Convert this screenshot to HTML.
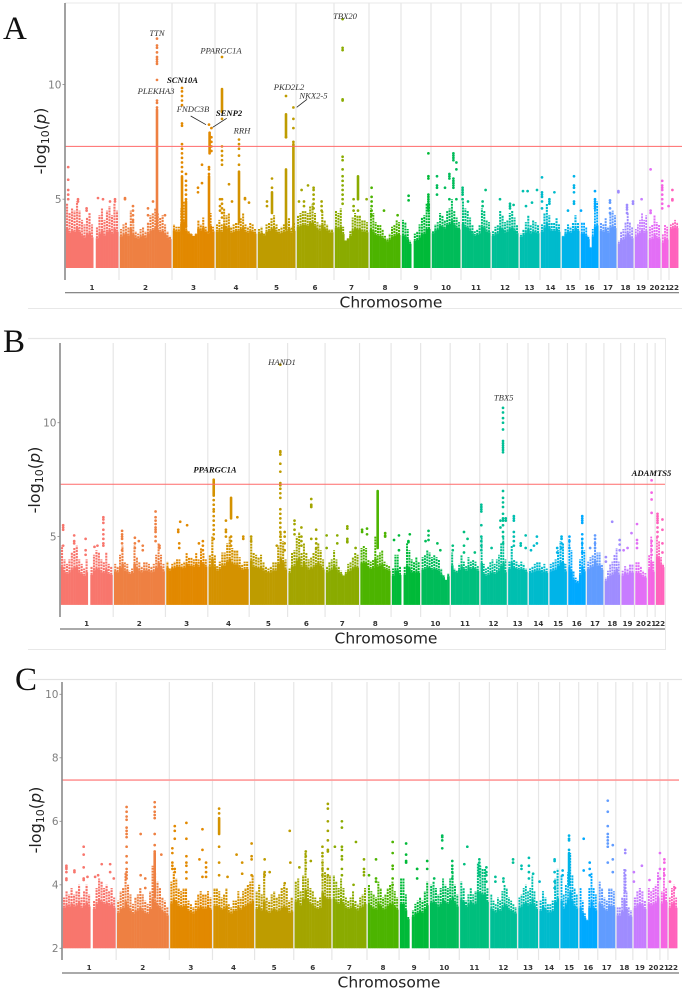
<!DOCTYPE html>
<html lang="en">
<head>
<meta charset="utf-8">
<title>Manhattan plots A, B and C</title>
<style>
html,body{margin:0;padding:0;background:#fff;}
#figure{display:block;width:682px;height:992px;filter:blur(0.35px);}
.tick{font-family:"DejaVu Sans","Liberation Sans",sans-serif;font-size:10.5px;fill:#7f7f7f;text-anchor:end;}
.chr{font-family:"DejaVu Sans","Liberation Sans",sans-serif;font-size:7.2px;font-weight:bold;fill:#333;text-anchor:middle;}
.xtitle{font-family:"DejaVu Sans","Liberation Sans",sans-serif;font-size:15.5px;fill:#222;text-anchor:middle;}
.ytitle{font-family:"DejaVu Sans","Liberation Sans",sans-serif;font-size:16px;fill:#222;text-anchor:middle;}
.gene{font-family:"Liberation Serif",serif;font-size:8.6px;font-style:italic;fill:#333;text-anchor:middle;}
.gene.b{font-weight:bold;fill:#111;}
.letter{font-family:"Liberation Serif",serif;font-size:33px;fill:#111;}
</style>
</head>
<body>
<svg id="figure" xmlns="http://www.w3.org/2000/svg" width="682" height="992" viewBox="0 0 682 992">
  <rect x="0" y="0" width="682" height="992" fill="#fff"/>

  <g id="panelA">
    <line x1="65" y1="3" x2="682" y2="3" stroke="#eee" stroke-width="1.2"/>
    <line x1="28" y1="308.5" x2="682" y2="308.5" stroke="#e8e8e8" stroke-width="1"/>
    <g id="panelAGrid"></g>
    <g id="panelAMarks"></g>
    <g id="panelAAxes"></g>
    <text class="letter" x="3" y="39">A</text>
    <text class="xtitle" x="391" y="307.5">Chromosome</text>
    <text class="ytitle" transform="translate(46,141) rotate(-90)">-log<tspan font-size="11" dy="3">10</tspan><tspan dy="-3">(</tspan><tspan font-style="italic">p</tspan>)</text>
    <g>
      <text class="gene" x="157" y="36">TTN</text>
      <text class="gene" x="221" y="53.5">PPARGC1A</text>
      <text class="gene b" x="182.5" y="83">SCN10A</text>
      <text class="gene" x="156" y="94">PLEKHA3</text>
      <text class="gene" x="289" y="90">PKD2L2</text>
      <text class="gene" x="313.5" y="98.5">NKX2-5</text>
      <text class="gene" x="193" y="112">FNDC3B</text>
      <text class="gene b" x="229" y="116">SENP2</text>
      <text class="gene" x="242" y="133.5">RRH</text>
      <text class="gene" x="345" y="19">TBX20</text>
      <line x1="190.7" y1="116" x2="206" y2="124.7" stroke="#222" stroke-width="0.8"/>
      <line x1="226.7" y1="118.3" x2="212.7" y2="127.3" stroke="#222" stroke-width="0.8"/>
      <line x1="307" y1="99.3" x2="296.7" y2="107.3" stroke="#222" stroke-width="0.8"/>
    </g>
  </g>

  <g id="panelB">
    <line x1="28" y1="338.5" x2="665" y2="338.5" stroke="#e6e6e6" stroke-width="1.2"/>
    <line x1="28" y1="649.5" x2="665" y2="649.5" stroke="#e8e8e8" stroke-width="1"/>
    <line x1="665.5" y1="338" x2="665.5" y2="650" stroke="#e8e8e8" stroke-width="1"/>
    <g id="panelBGrid"></g>
    <g id="panelBMarks"></g>
    <g id="panelBAxes"></g>
    <text class="letter" x="3" y="352">B</text>
    <text class="xtitle" x="386" y="643.5">Chromosome</text>
    <text class="ytitle" transform="translate(40,480) rotate(-90)">-log<tspan font-size="11" dy="3">10</tspan><tspan dy="-3">(</tspan><tspan font-style="italic">p</tspan>)</text>
    <g>
      <text class="gene" x="282" y="365">HAND1</text>
      <text class="gene b" x="215" y="472.5">PPARGC1A</text>
      <text class="gene" x="503.7" y="400.7">TBX5</text>
      <text class="gene b" x="651.5" y="476">ADAMTS5</text>
    </g>
  </g>

  <g id="panelC">
    <line x1="28" y1="679.5" x2="682" y2="679.5" stroke="#e2e2e2" stroke-width="1.2"/>
    <g id="panelCGrid"></g>
    <g id="panelCMarks"></g>
    <g id="panelCAxes"></g>
    <text class="letter" x="15" y="690">C</text>
    <text class="xtitle" x="389" y="987.5">Chromosome</text>
    <text class="ytitle" transform="translate(41,820) rotate(-90)">-log<tspan font-size="11" dy="3">10</tspan><tspan dy="-3">(</tspan><tspan font-style="italic">p</tspan>)</text>
  </g>
</svg>

<script>
const chromosomes = ['1','2','3','4','5','6','7','8','9','10','11','12','13','14','15','16','17','18','19','20','21','22'];
const chrSpanMb = [270,265,215,210,195,190,175,160,150,150,150,140,105,105,95,95,90,85,70,65,40,50];
const chrColors = ['#F8766D','#EE8042','#E28900','#D49200','#BE9C00','#A3A500','#8AAB00','#4CB400','#00BA38','#00BC59','#00BF7D','#00BF96','#00BFB0','#00BBCC','#00B4E8','#00A9FF','#619CFF','#9F8CFF','#C77CFF','#E36EF6','#F564E3','#FF62BC'];
const significanceLine = 7.3;
const floorValue = 2;

const yTicksA = [5,10];
const baseA = [3.3,3.5,3.8,3.7,3.7,3.8,3.6,3.4,3.3,3.8,3.6,3.6,3.6,3.7,3.7,3.5,3.7,3.3,3.5,3.2,3.2,3.9];
const skylineA = [
[4.8,4.4,4.6,4.5,4.9,4.5,4.1,3.9,4.2,4.4,3.9,null,3.8,4.3,4.6,4.1,4.5,4.7,4.3,4.8,4.5],
[3.7,3.9,4.0,3.8,4.5,3.9,3.6,3.5,3.7,3.8,3.6,4.0,4.3,4.4,4.6,4.4,4.2,4.3,3.9,3.6,3.4],
[3.9,3.8,3.8,4.6,4.9,3.9,3.6,3.5,3.4,3.5,4.1,3.9,4.2,3.8,3.6,4.4,3.8],
[3.9,4.1,3.9,4.6,4.3,4.4,3.8,3.9,4.0,4.0,4.2,4.4,3.9,3.8,4.0,3.9,3.7],
[3.7,3.8,3.5,3.9,4.0,4.2,4.3,3.9,3.7,3.8,3.9,4.0,4.2,3.8,4.0],
[4.3,4.4,4.5,4.5,4.4,4.7,4.8,4.4,4.0,3.9,4.5,4.1,3.9,3.7,3.7],
[4.5,4.4,4.6,3.8,3.2,3.3,3.6,4.2,4.4,4.3,4.3,4.1,4.1,4.0],
[4.6,4.4,4.0,3.9,3.9,3.7,3.4,3.3,3.5,3.8,3.9,4.1,4.0],
[4.1,4.0,3.7,3.2,null,3.5,3.6,3.9,4.2,4.3,4.8,4.8],
[3.6,3.9,4.0,4.4,4.3,4.1,4.5,4.6,5.0,4.5,4.2,4.0],
[4.9,4.6,4.5,4.2,3.9,3.6,3.7,3.9,4.6,4.5,4.1,4.0],
[3.6,3.8,3.9,4.5,4.3,4.0,4.1,4.4,4.5,4.2,3.9],
[3.5,3.7,4.0,4.3,3.9,4.1,4.0,3.9],
[3.9,4.4,4.8,4.3,4.0,4.0,4.2,3.9],
[3.4,3.7,3.9,3.8,4.0,4.3,4.0],
[4.0,4.0,3.8,3.4,2.9,3.7,4.8,4.9],
[4.0,3.9,4.2,3.8,4.4,4.5,4.3],
[3.2,3.6,3.7,4.0,4.4,4.0,3.8],
[3.7,3.9,4.1,4.4,4.1,4.3],
[3.8,3.9,4.3,4.0,3.9],
[3.5,3.9,3.8],
[3.9,4.0,4.1,4.0]
];
const towersA = [[2,190,3.5,8.9],[3,50,3.5,6.0],[3,70,3.8,4.9],[3,185,3.6,6.0],[3,188,7.0,7.9],[4,35,8.8,9.8],[4,120,4.0,6.2],[5,145,3.7,6.3],[5,145,7.7,8.7],[5,182,3.6,7.4],[5,75,4.4,5.3],[7,120,5.0,6.0]];
const hitsA = [
[[16,6.4,5.85,5.4,5.2,5.0],[65,5.0,4.9],[108,4.5,4.6],[165,5.05],[190,5.0],[225,4.9],[250,5.0,4.9]],
[[30,5.05,5.0],[70,4.7,4.5,4.3,4.1,4.0],[145,4.6,4.3],[170,4.9],[190,9.0,9.2,9.3,10.2,10.9,11.0,11.1,11.2,11.4,11.6,11.7,12.0],[230,4.3]],
[[50,6.2,6.4,6.6,6.8,7.0,7.2,7.4,8.2,8.3,9.1,9.3,9.5,9.7,9.85],[70,6.1,5.8,5.6,5.4,5.2,5.0],[130,5.5,5.3],[150,6.5,5.7],[185,6.1,6.3,6.4,8.25],[197,8.1,7.7,7.5,7.3,7.1]],
[[25,5.0,4.7,4.5],[35,4.2,4.4,4.6,4.8,5.0,6.5,6.7,6.9,7.1,7.3,8.5,11.2],[70,5.65],[85,4.9],[120,6.5,6.9,7.2,7.4,7.6],[150,5.05,5.0],[170,4.85]],
[[50,4.9,4.7],[75,5.9,5.5],[145,9.5,7.7],[182,7.5,8.1,8.5,9.0]],
[[15,4.9],[28,5.4],[40,4.9,4.7],[60,5.6],[88,5.5,5.4,5.2,5.0,4.8,4.6],[128,4.9,4.7,4.5]],
[[43,12.85,11.6,11.5,9.35,9.3,6.85,6.7,6.3,6.0,5.8,5.6,5.4,5.2,5.0,4.8],[98,5.0,4.7,4.5],[120,4.5],[163,5.0]],
[[13,5.5,5.1,4.9,4.7,4.5,4.3],[75,4.5],[143,4.3]],
[[38,5.15,4.95],[137,7.0,6.0,5.9,5.2,5.1,5.0,4.9,4.8,4.7,4.6,4.5]],
[[30,6.0,5.6,5.5,5.2],[70,5.5],[92,6.1,6.0,5.9,5.0],[112,7.0,6.9,6.8,6.7,5.9,5.8,5.7,5.6,5.5],[127,6.6,6.3,5.0]],
[[8,5.5,5.4,5.3,5.2,5.0],[35,4.9],[108,4.9,4.7],[123,5.4]],
[[45,5.0],[95,4.8,4.7,4.6],[113,4.75]],
[[20,5.35],[35,4.7],[43,5.35],[65,4.85],[90,5.4]],
[[10,5.95,5.3,5.2,5.1,4.9,4.6],[47,5.0,4.9,4.8],[72,5.3]],
[[35,4.5],[65,6.0,5.6,5.5,5.3,4.9,4.8]],
[[5,4.5],[75,5.35,5.0,4.9,4.8,4.7,4.6]],
[[55,4.95,4.85,4.6,4.4]],
[[7,5.35,5.3],[50,4.75,4.65,4.55,4.4],[80,4.9,4.8]],
[[38,5.0]],
[[13,6.3,4.5,4.4]],
[[6,5.8,5.6,5.5,5.4,5.2,5.0,4.8,4.6],[38,4.7]],
[[17,5.4,5.0,4.95]]
];

const yTicksB = [5,10];
const baseB = [3.4,3.6,3.8,3.7,3.6,3.6,3.6,3.7,3.4,3.5,3.7,3.4,3.7,3.6,3.6,3.2,3.7,3.3,3.5,3.4,3.5,3.9];
const skylineB = [
[4.6,4.0,3.8,4.0,4.3,4.5,4.6,4.0,3.8,3.6,4.0,null,3.7,4.2,4.4,4.3,4.0,3.9,4.3,3.8,3.7],
[3.8,3.7,4.2,4.6,3.9,3.8,3.5,3.6,4.6,4.1,3.9,3.7,3.9,3.9,3.8,3.7,3.8,4.2,4.7,4.2,3.8],
[3.9,3.6,3.8,3.9,4.0,4.0,3.8,3.9,4.3,4.1,4.1,4.0,4.3,4.0,4.5,4.3,4.0],
[4.2,5.0,4.2,3.7,3.9,4.3,4.3,4.7,5.0,4.5,4.4,4.4,4.1,3.8,3.9,3.9],
[5.0,4.3,4.2,4.1,4.2,3.9,3.7,3.6,3.7,3.9,3.9,4.6,5.2,4.8,4.0],
[3.6,4.3,4.4,5.0,5.2,4.3,4.7,4.3,4.0,4.1,4.3,4.5,4.7,4.4,4.0],
[3.7,3.9,4.0,4.4,4.0,3.7,3.5,3.3,3.5,3.8,3.9,4.1,4.3,4.2],
[4.5,4.6,4.5,4.0,3.9,4.0,5.0,4.2,4.3,4.4,3.9,3.8,3.7],
[3.6,4.2,4.2,3.7,null,3.7,4.7,4.4,4.0,3.9,4.1,3.9],
[4.1,4.2,4.4,4.3,4.1,4.2,4.1,4.0,3.6,3.3,3.1,3.4],
[4.3,3.6,3.5,3.8,4.2,3.9,3.7,4.1,3.9,4.0,3.9,3.7],
[5.0,3.8,3.6,3.7,3.9,4.0,3.8,4.0,4.2,4.7,5.0,4.0],
[3.9,4.6,4.0,3.9,3.8,3.9,3.8,3.6],
[3.6,3.7,3.8,3.9,3.9,3.7,3.8,3.6],
[3.8,3.9,4.0,4.4,4.8,4.7,3.8],
[4.9,4.4,3.5,3.2,3.1,4.0,4.9,4.4],
[3.9,4.1,4.2,4.8,4.3,4.3,3.8],
[3.2,3.5,3.8,3.9,4.2,4.5,3.9],
[3.5,3.7,3.6,3.8,3.8],
[3.9,3.9,3.7,3.5,3.4],
[4.2,5.0,3.9],
[5.0,4.8,4.1,3.8]
];
const towersB = [[4,30,6.8,7.5],[4,118,5.8,6.7],[8,92,4.5,7.0]];
const hitsB = [
[[16,5.5,5.4,5.3,4.6],[72,5.05,4.8,4.7],[130,4.9,4.4,4.2],[175,4.55],[190,4.6],[220,5.85,5.75,5.6,5.3,5.1,4.9,4.7,4.6]],
[[45,5.25,5.1,5.0,4.9,4.7,4.4],[110,4.95,4.7,4.5],[130,4.8],[150,4.6,4.4],[215,6.1,5.85,5.7,5.55,5.4,5.3,5.2,5.0,4.8],[235,4.6,4.5]],
[[65,5.3,5.2],[70,4.7,4.5],[75,5.65],[110,5.5],[170,4.7],[190,4.8,4.6,4.4]],
[[30,6.6,6.4,6.2,6.1,5.9,5.7,5.5,5.3,5.1,4.9],[92,5.7,5.3,5.2,5.0],[118,4.6,4.8,5.0],[150,5.85],[180,5.0,4.9]],
[[10,5.0,4.8],[140,4.6],[158,12.55,8.75,8.7,8.6,8.2,7.85,7.35,7.25,7.1,6.9,6.7,6.2,6.0,5.8,5.6,5.4,5.2,5.0],[180,5.2,5.0,4.7,4.4]],
[[35,5.7,5.55,5.3,5.1],[70,5.4,5.0,4.8,4.6],[120,6.65,6.4,6.35,6.3,4.9],[145,5.3,4.9,4.7,4.5]],
[[8,5.05,4.5],[62,5.05,4.7],[113,5.45,5.35,4.9,4.8,4.75],[155,4.5]],
[[13,5.3,5.2],[38,5.35,5.1],[130,5.15,5.05,5.0]],
[[15,4.85],[40,5.05,4.4],[88,4.8,4.75],[95,5.1]],
[[25,4.8],[40,5.25,5.05,4.85],[85,4.7],[100,4.4]],
[[13,4.6,4.4],[70,5.2,4.6,4.3],[88,4.9],[125,4.3]],
[[8,6.4,6.3,6.2,6.1,5.5,5.0,4.8,4.6,4.4],[60,4.5],[105,5.7,5.4],[118,10.65,10.45,10.2,10.0,9.7,9.2,9.1,9.0,8.9,8.8,8.7,7.0,6.7,6.5,6.3,6.0,5.8,5.7,5.5,5.2,5.0,4.7],[132,5.8,5.7]],
[[33,5.9,5.8,5.7,5.2,5.0,4.8,4.6],[68,4.7,4.6],[93,5.05,4.5]],
[[15,4.4],[30,4.6],[45,5.0,4.7]],
[[43,4.5,4.3],[65,5.0,4.9,4.7,4.5]],
[[10,5.0,4.8,4.5],[75,5.9,5.8,5.7,5.6,5.1,4.9,4.7,4.5,4.3]],
[[20,4.5],[45,5.05,4.9,4.7,4.5]],
[[10,4.1,3.9],[42,5.65],[80,4.85,4.65,4.4]],
[[15,4.4],[35,4.5],[55,5.15]],
[[13,5.55,4.85,4.7,4.5]],
[[22,7.47,6.93,6.63,6.04,4.8,4.6,4.4,4.2]],
[[12,6.0,5.9,5.8,5.7,5.6,5.4,5.2,5.0],[37,5.75,5.3,4.7,4.3]]
];

const yTicksC = [2,4,6,8,10];
const baseC = [3.4,3.2,3.3,3.3,3.2,3.4,3.4,3.3,3.2,3.4,3.5,3.3,3.4,3.3,3.3,3.2,3.3,3.2,3.4,3.4,3.5,3.4];
const skylineC = [
[3.6,3.8,3.7,3.9,3.7,3.8,4.0,3.6,3.8,4.0,3.7,null,3.5,3.9,4.2,4.1,3.9,4.0,3.8,3.9,3.6],
[3.5,3.8,3.9,4.4,4.0,3.7,3.4,3.6,3.7,3.9,3.7,3.5,3.4,3.8,4.6,4.4,4.1,3.9,3.6,3.5,3.3],
[4.1,4.4,4.2,3.9,3.8,3.9,3.9,3.5,3.4,3.3,3.5,3.7,3.8,3.7,3.7,3.8,3.6],
[3.9,3.9,3.8,3.6,3.7,3.9,3.4,3.3,3.5,3.5,3.8,3.6,3.8,3.9,4.0,4.1,4.3],
[3.8,4.0,3.7,4.4,3.6,3.5,3.7,3.8,3.6,3.7,3.9,4.0,3.9,3.5,3.6],
[4.1,4.2,3.8,4.3,5.0,4.2,3.9,3.8,3.6,3.5,3.6,4.8,4.4,4.3,4.3],
[4.3,4.1,3.9,4.2,3.9,3.6,3.5,3.6,3.8,3.5,3.4,3.6,3.7,3.9],
[4.0,3.8,3.7,3.6,4.1,3.9,3.6,3.7,3.9,4.0,4.1,3.8,3.6],
[4.2,4.2,3.7,3.0,null,3.2,3.4,3.5,3.6,3.5,3.8,4.1],
[4.0,4.1,3.9,3.7,3.9,4.2,4.0,3.9,4.2,4.4,4.0,3.7],
[4.1,3.9,3.5,3.7,3.9,3.7,3.8,4.7,4.6,4.5,4.5,3.9],
[3.7,3.5,3.4,3.6,3.5,3.8,4.0,3.9,3.6,3.5,3.4,3.3],
[3.6,3.7,3.9,4.0,3.8,3.9,4.3,3.8,3.5],
[3.5,3.8,3.6,3.4,3.4,3.5,4.2,4.5],
[4.3,3.7,4.0,4.4,5.0,4.3,3.9,3.7],
[3.9,3.5,3.1,2.9,3.9,4.4,3.9,3.7],
[4.1,3.9,3.6,3.5,3.9,3.9,3.8],
[3.3,3.3,3.6,4.5,3.8,3.3,3.2],
[3.6,3.8,3.9,3.8,3.5],
[3.9,3.8,3.9,4.0,4.4],
[3.8,4.5,3.9],
[3.6,3.9,4.0,3.6]
];
const towersC = [[2,192,3.6,5.0],[4,33,5.6,6.1],[15,47,4.0,5.0]];
const hitsC = [
[[22,4.6,4.55,4.5,4.4,4.2,4.15],[62,4.45,4.4],[108,5.2,4.95,4.55,4.2,4.15],[127,4.25],[165,4.25],[180,4.3],[198,4.65],[240,4.65,4.4],[258,4.2]],
[[52,6.45,6.3,6.15,6.05,5.8,5.7,5.6,5.5,5.2,4.9,4.7,4.5,4.4,4.3,4.2],[122,5.6,4.3],[145,4.2,3.9],[192,6.6,6.45,6.3,6.2,6.1,5.6,5.25,5.05],[225,4.95]],
[[15,5.15,5.0,4.7,4.6,4.5],[27,5.85,5.7,5.45,4.5,4.4],[85,5.95,5.45,4.9,4.7,4.6,4.4,4.2],[150,4.8],[165,5.75,5.1,4.25],[183,4.7,4.55,4.4,4.25]],
[[33,6.4,6.25,5.2,4.7,4.3],[75,4.25],[120,4.95],[148,4.7,4.35],[195,5.3,4.9,4.8,4.3]],
[[50,4.8,4.4,4.3],[75,4.4],[150,4.05],[175,5.7],[178,4.7]],
[[28,4.55],[60,5.05,4.9,4.7,4.5],[85,4.75],[143,5.2,5.0,4.9,4.7,4.5,4.3],[170,6.55,6.4,6.0,5.7,5.4,5.1,5.05,4.5,4.3]],
[[15,5.2],[50,6.0,5.8,5.2,5.1,4.9,4.8,4.5,4.3],[108,4.0],[120,5.35],[160,4.8,4.5,4.4,4.3]],
[[10,4.3],[45,4.8,4.2,4.1],[128,5.35,5.0,4.6,4.5,4.2,4.0]],
[[35,5.3,4.95,4.75,4.7],[90,4.5,4.5,4.2],[140,4.75,4.5]],
[[25,4.2],[65,5.55,5.5,5.4,5.15],[115,4.75,4.6,4.5,4.4,4.2]],
[[25,4.65],[40,5.2],[100,4.8,4.7,4.6,4.5,4.4,4.3],[135,4.55,4.4,4.3,4.1]],
[[30,4.25,4.1],[70,4.2,4.1],[118,4.8,4.7]],
[[20,4.6,4.5],[57,4.85,4.6,4.4,4.2],[78,4.35]],
[[5,4.1],[80,4.8,4.75,4.4,4.1,3.9]],
[[15,4.45,4.3],[47,5.55,5.45,5.4,5.1,4.2]],
[[25,5.45,4.45],[55,4.7,4.5,4.3]],
[[50,6.65,6.3,5.85,5.6,5.5,5.4,5.3,5.2,4.7],[75,5.25,4.8,4.4]],
[[47,5.1,5.0,4.45,4.3,4.2,4.1,4.0,3.9,3.8]],
[[5,4.4,4.1],[45,4.6]],
[[13,4.15],[65,5.0,4.5,4.2]],
[[22,4.8,4.7,4.5,4.3]],
[[10,4.1],[35,3.9]]
];

const SVGNS = 'http://www.w3.org/2000/svg';

function makePanel(opts) {
  const total = chrSpanMb.reduce(function (a, b) { return a + b; }, 0);
  const xScale = (opts.right - opts.left) / total;
  const pxPerUnit = (opts.y2 - opts.y10) / 8;
  const starts = [];
  let running = 0;
  chrSpanMb.forEach(function (span) { starts.push(running); running += span; });
  function xAt(chrIndex, mb) { return opts.left + (starts[chrIndex] + mb) * xScale; }
  function yAt(value) { return opts.y2 - (value - floorValue) * pxPerUnit; }

  const grid = document.getElementById(opts.id + 'Grid');
  const marks = document.getElementById(opts.id + 'Marks');
  const axes = document.getElementById(opts.id + 'Axes');

  function shape(parent, tag, attrs) {
    const el = document.createElementNS(SVGNS, tag);
    Object.keys(attrs).forEach(function (k) { el.setAttribute(k, attrs[k]); });
    parent.appendChild(el);
    return el;
  }

  chromosomes.forEach(function (label, i) {
    if (i > 0) {
      const gridLine = shape(grid, 'line', {x1: xAt(i, 0), x2: xAt(i, 0), y1: opts.top, y2: opts.axisBottom, stroke: '#e6e6e6', 'stroke-width': 1.2});
      
      
    }
    const chrGroup = shape(marks, 'g', {fill: chrColors[i], stroke: chrColors[i]});
    
    

    const tops = opts.skyline[i];
    const x0 = xAt(i, 0) + 0.8;
    const x1 = xAt(i, chrSpanMb[i]) - 0.8;
    const step = (x1 - x0) / tops.length;
    tops.forEach(function (top, k) {
      if (top === null) { return; }
      const colX = x0 + k * step;
      const solidTop = Math.min(top, opts.base[i] - 0.2 + 0.4 * (top - opts.base[i]));
      const yBase = yAt(solidTop);
      const column = shape(chrGroup, 'rect', {x: colX, y: yBase, width: step + 0.25, height: yAt(floorValue) - yBase, stroke: 'none'});
      
      
      const spike = shape(chrGroup, 'line', {x1: colX + step / 2, x2: colX + step / 2, y1: yBase, y2: yAt(top), 'stroke-width': Math.min(step * 0.85, 2.3), 'stroke-dasharray': '2.1 0.8'});
      
      
    });

    opts.hits[i].forEach(function (hit) {
      hit.slice(1).forEach(function (value) {
        const point = shape(chrGroup, 'circle', {cx: xAt(i, hit[0]), cy: yAt(value), r: 1.35, stroke: 'none'});
        
        
      });
    });

    const chrLabel = shape(axes, 'text', {x: xAt(i, chrSpanMb[i] / 2), y: opts.labelY, 'class': 'chr'});
    chrLabel.textContent = label;
    
    
  });

  opts.towers.forEach(function (t) {
    const tower = shape(marks, 'line', {x1: xAt(t[0] - 1, t[1]), x2: xAt(t[0] - 1, t[1]), y1: yAt(t[2]), y2: yAt(t[3]), stroke: chrColors[t[0] - 1], 'stroke-width': 2.6, 'stroke-linecap': 'round'});
    
    
  });

  const redLine = shape(marks, 'line', {x1: opts.left, x2: opts.lineRight, y1: yAt(significanceLine), y2: yAt(significanceLine), stroke: opts.redColor, 'stroke-width': opts.redWidth});
  
  

  const yAxis = shape(axes, 'line', {x1: opts.left, x2: opts.left, y1: opts.top, y2: opts.axisBottom, stroke: '#8a8a8a', 'stroke-width': 1.6});
  
  
  const xAxis = shape(axes, 'line', {x1: opts.left, x2: opts.xAxisRight, y1: opts.xAxisY, y2: opts.xAxisY, stroke: '#777', 'stroke-width': 1.2});
  
  

  opts.ticks.forEach(function (value) {
    const tickMark = shape(axes, 'line', {x1: opts.left - 2.5, x2: opts.left, y1: yAt(value), y2: yAt(value), stroke: '#888', 'stroke-width': 0.8});
    
    
    const tickLabel = shape(axes, 'text', {x: opts.left - 3.5, y: yAt(value) + 3.8, 'class': 'tick'});
    tickLabel.textContent = value;
    
    
  });
}

makePanel({id: 'panelA', left: 65, right: 679, lineRight: 682, xAxisRight: 679, top: 3, axisBottom: 280, y10: 84.5, y2: 268, labelY: 290, xAxisY: 292.7, redColor: '#ff6a6a', redWidth: 1, ticks: yTicksA, base: baseA, skyline: skylineA, hits: hitsA, towers: towersA});
makePanel({id: 'panelB', left: 60, right: 665, lineRight: 665, xAxisRight: 665, top: 343, axisBottom: 617, y10: 422.7, y2: 604.9, labelY: 626, xAxisY: 629, redColor: '#ff6a6a', redWidth: 1, ticks: yTicksB, base: baseB, skyline: skylineB, hits: hitsB, towers: towersB});
makePanel({id: 'panelC', left: 62, right: 678, lineRight: 679, xAxisRight: 679, top: 682, axisBottom: 960, y10: 694.3, y2: 948.3, labelY: 970, xAxisY: 973, redColor: '#ff9a9a', redWidth: 1.6, ticks: yTicksC, base: baseC, skyline: skylineC, hits: hitsC, towers: towersC});
</script>
</body>
</html>
